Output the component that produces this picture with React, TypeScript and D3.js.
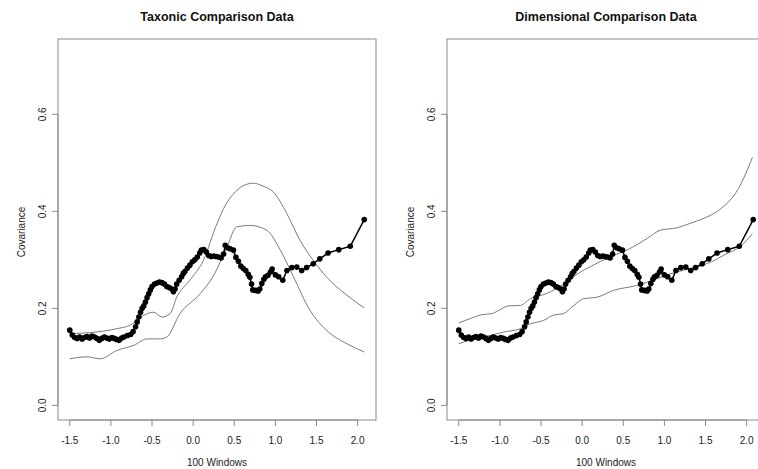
import React from "react";
import * as d3 from "d3";

// Shared observed series (black points)
const obsX = [
  -1.5, -1.47, -1.44, -1.41, -1.38, -1.35, -1.32, -1.29, -1.26, -1.23, -1.2, -1.17, -1.14, -1.11, -1.08,
  -1.05, -1.02, -0.99, -0.96, -0.93, -0.9, -0.87, -0.84, -0.8, -0.76, -0.73, -0.7, -0.68, -0.66, -0.64,
  -0.62, -0.6, -0.58, -0.56, -0.54, -0.52, -0.5, -0.47, -0.44, -0.41, -0.38, -0.35, -0.32, -0.29, -0.26,
  -0.24, -0.22, -0.2, -0.17, -0.14, -0.12, -0.1, -0.07, -0.04, -0.01, 0.02, 0.05, 0.08, 0.1, 0.13,
  0.16, 0.19, 0.22, 0.25, 0.28, 0.31, 0.34, 0.37, 0.39, 0.42, 0.45, 0.49, 0.52, 0.55, 0.58,
  0.61, 0.64, 0.67, 0.69, 0.71, 0.725, 0.76, 0.79, 0.81, 0.835, 0.86, 0.88, 0.91, 0.94, 0.96,
  1.0, 1.04, 1.09, 1.14, 1.2, 1.26, 1.32, 1.38, 1.46, 1.54, 1.64, 1.77, 1.91, 2.08,
];
const obsY = [
  0.155, 0.145, 0.14, 0.138, 0.141, 0.137, 0.14, 0.142, 0.139, 0.143, 0.141, 0.138, 0.134, 0.138, 0.141,
  0.139, 0.137, 0.14, 0.138, 0.136, 0.134, 0.139, 0.141, 0.144, 0.146, 0.152, 0.162, 0.172, 0.182, 0.192,
  0.2, 0.205, 0.213, 0.222, 0.23, 0.238, 0.245, 0.25, 0.252, 0.254, 0.253, 0.25, 0.245, 0.243, 0.24,
  0.234, 0.24, 0.25, 0.258, 0.265, 0.272, 0.276, 0.283, 0.289, 0.296, 0.3, 0.306, 0.314, 0.32, 0.321,
  0.316, 0.309, 0.307, 0.308, 0.307, 0.306, 0.304, 0.312, 0.33, 0.325, 0.323, 0.32, 0.305, 0.297, 0.287,
  0.282, 0.278, 0.27, 0.264, 0.25, 0.238, 0.237, 0.236, 0.24, 0.251, 0.26, 0.265, 0.268, 0.275, 0.281,
  0.269, 0.265, 0.258, 0.278, 0.284, 0.285, 0.278, 0.284, 0.292, 0.302, 0.314, 0.321, 0.328, 0.383,
];

// Taxonic comparison bands
const taxUpperX = [-1.5, -1.25, -0.93, -0.77, -0.6, -0.48, -0.38, -0.28, -0.2, -0.04, 0.125, 0.29, 0.4, 0.49, 0.6, 0.73, 0.85, 0.975, 1.14, 1.3, 1.46, 1.62, 1.87, 2.08];
const taxUpperY = [0.148, 0.15, 0.158, 0.165, 0.186, 0.192, 0.182, 0.189, 0.223, 0.258, 0.299, 0.375, 0.415, 0.436, 0.452, 0.458, 0.452, 0.44, 0.395, 0.34, 0.299, 0.265, 0.227, 0.201];
const taxLowerX = [-1.5, -1.29, -1.13, -0.93, -0.72, -0.56, -0.4, -0.32, -0.16, 0.085, 0.25, 0.41, 0.53, 0.69, 0.895, 1.06, 1.22, 1.42, 1.62, 1.87, 2.08];
const taxLowerY = [0.096, 0.1, 0.096, 0.113, 0.124, 0.137, 0.137, 0.141, 0.189, 0.23, 0.268, 0.326, 0.368, 0.371, 0.361, 0.32, 0.265, 0.196, 0.155, 0.127, 0.11];

// Dimensional comparison bands
const dimUpperX = [-1.5, -1.36, -1.22, -1.1, -1.0, -0.9, -0.75, -0.63, -0.49, -0.35, -0.19, -0.02, 0.1, 0.34, 0.58, 0.79, 0.95, 1.15, 1.31, 1.47, 1.66, 1.9, 2.07];
const dimUpperY = [0.17, 0.179, 0.187, 0.189, 0.197, 0.205, 0.206, 0.22, 0.227, 0.237, 0.254, 0.275, 0.286, 0.306, 0.323, 0.344, 0.361, 0.366, 0.375, 0.385, 0.402, 0.447, 0.511];
const dimLowerX = [-1.5, -1.32, -1.12, -0.96, -0.75, -0.63, -0.47, -0.35, -0.23, -0.1, 0.02, 0.18, 0.38, 0.66, 0.91, 1.07, 1.31, 1.56, 1.76, 1.92, 2.07];
const dimLowerY = [0.127, 0.137, 0.144, 0.151, 0.158, 0.168, 0.175, 0.186, 0.189, 0.206, 0.22, 0.223, 0.237, 0.247, 0.261, 0.271, 0.282, 0.295, 0.313, 0.327, 0.354];

const xTicks = [-1.5, -1.0, -0.5, 0.0, 0.5, 1.0, 1.5, 2.0];
const yTicks = [0.0, 0.2, 0.4, 0.6];

const titles = ["Taxonic Comparison Data", "Dimensional Comparison Data"];
const xLabel = "100 Windows";
const yLabel = "Covariance";

const FONT = "'Liberation Sans', Arial, sans-serif";

type Pt = [number, number];
const zip = (xs: number[], ys: number[]): Pt[] => xs.map((x, i) => [x, ys[i]]);

function Panel({ dx, title, upper, lower }: { dx: number; title: string; upper: Pt[]; lower: Pt[] }) {
  const x = d3.scaleLinear().domain([-1.643, 2.223]).range([58, 376]);
  const y = d3.scaleLinear().domain([-0.0302, 0.7553]).range([420, 39]);
  const line = d3.line<Pt>().x((d) => x(d[0])).y((d) => y(d[1]));
  const band = d3.line<Pt>().x((d) => x(d[0])).y((d) => y(d[1])).curve(d3.curveMonotoneX);
  const obs = zip(obsX, obsY);
  return (
    <g transform={`translate(${dx},0)`}>
      <text x={217} y={21} textAnchor="middle" fontFamily={FONT} fontWeight="bold" fontSize={12.5} fill="#111">
        {title}
      </text>
      <rect x={58} y={39} width={318} height={381} fill="none" stroke="#8a8a8a" strokeWidth={1} />
      {/* x axis */}
      <line x1={x(-1.5)} x2={x(2.0)} y1={420} y2={420} stroke="#8a8a8a" />
      {xTicks.map((t) => (
        <g key={t}>
          <line x1={x(t)} x2={x(t)} y1={420} y2={426} stroke="#8a8a8a" />
          <text x={x(t)} y={444} textAnchor="middle" fontFamily={FONT} fontSize={10} fill="#222">
            {t.toFixed(1)}
          </text>
        </g>
      ))}
      <text x={217} y={466} textAnchor="middle" fontFamily={FONT} fontSize={10} fill="#222">
        {xLabel}
      </text>
      {/* y axis */}
      <line x1={58} x2={58} y1={y(0)} y2={y(0.6)} stroke="#8a8a8a" />
      {yTicks.map((t) => (
        <g key={t}>
          <line x1={52} x2={58} y1={y(t)} y2={y(t)} stroke="#8a8a8a" />
          <text
            transform={`translate(46,${y(t)}) rotate(-90)`}
            textAnchor="middle"
            fontFamily={FONT}
            fontSize={10}
            fill="#222"
          >
            {t.toFixed(1)}
          </text>
        </g>
      ))}
      <text transform={`translate(25,232) rotate(-90)`} textAnchor="middle" fontFamily={FONT} fontSize={10} fill="#222">
        {yLabel}
      </text>
      {/* bands */}
      <path d={band(upper) || ""} fill="none" stroke="#7a7a7a" strokeWidth={1} />
      <path d={band(lower) || ""} fill="none" stroke="#7a7a7a" strokeWidth={1} />
      {/* observed */}
      <path d={line(obs) || ""} fill="none" stroke="#000" strokeWidth={1.5} />
      {obs.map((d, i) => (
        <circle key={i} cx={x(d[0])} cy={y(d[1])} r={2.8} fill="#000" />
      ))}
    </g>
  );
}

export default function App() {
  return (
    <div style={{ position: "absolute", left: 0, top: 0 }}>
      <svg width={758} height={469} style={{ display: "block", background: "#fff" }}>
        <Panel dx={0} title={titles[0]} upper={zip(taxUpperX, taxUpperY)} lower={zip(taxLowerX, taxLowerY)} />
        <Panel dx={389} title={titles[1]} upper={zip(dimUpperX, dimUpperY)} lower={zip(dimLowerX, dimLowerY)} />
      </svg>
    </div>
  );
}
